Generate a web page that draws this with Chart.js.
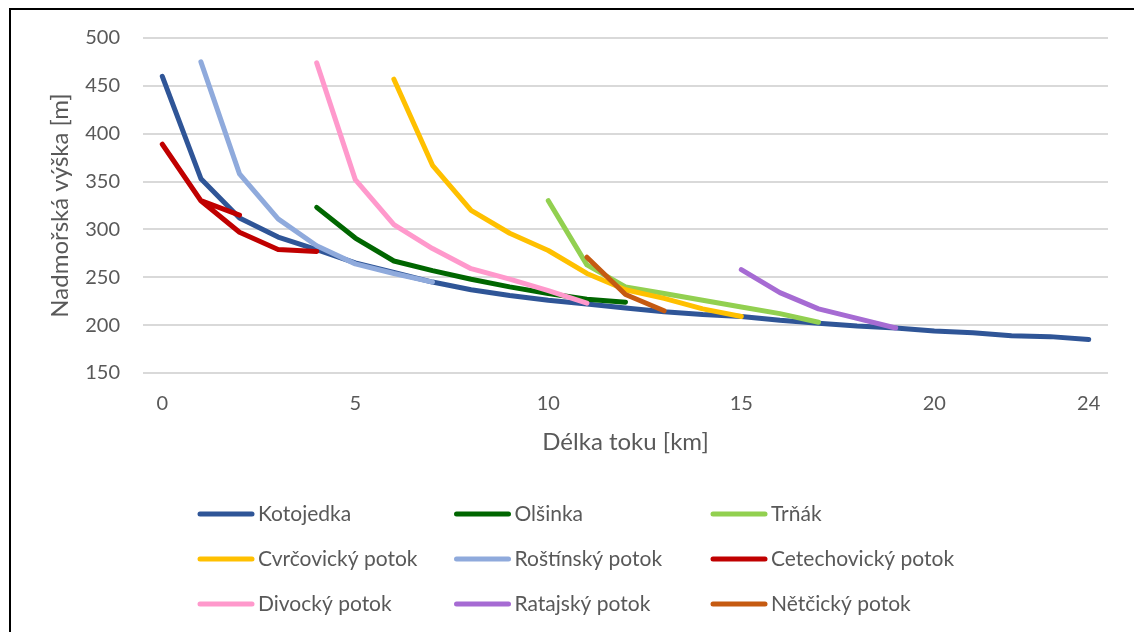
<!DOCTYPE html>
<html>
<head>
<meta charset="utf-8">
<script src="https://cdn.jsdelivr.net/npm/chart.js@4.4.1/dist/chart.umd.min.js"></script>
<style>
  html, body { margin: 0; padding: 0; background: #ffffff; }
  #wrap { width: 1134px; height: 632px; position: relative; }
</style>
</head>
<body>
<div id="wrap"><canvas id="c" width="1134" height="632"></canvas></div>
<script>
// ---- Data ----
const seriesNames = [
  "Kotojedka", "Olšinka", "Trňák",
  "Cvrčovický potok", "Roštínský potok", "Cetechovický potok",
  "Divocký potok", "Ratajský potok", "Nětčický potok"
];

const kotojedkaX = [0,1,2,3,4,5,6,7,8,9,10,11,12,13,14,15,16,17,18,19,20,21,22,23,24];
const kotojedkaY = [460,353,312,292,279,265,255,245,237,231,226,222,218,214,211,209,205,202,199,197,194,192,189,188,185];

const olsinkaX = [4,5,6,7,8,9,10,11,12];
const olsinkaY = [323,291,267,257,248,240,233,227,224];

const trnakX = [10,11,12,13,14,15,16,17];
const trnakY = [330,263,240,233,226,219,212,203];

const cvrcovickyX = [6,7,8,9,10,11,12,13,14,15];
const cvrcovickyY = [457,367,320,296,278,254,237,228,217,209];

const rostinskyX = [1,2,3,4,5,6,7];
const rostinskyY = [475,358,311,283,264,254,245];

const cetechovickyX = [0,1,2,1,2,3,4];
const cetechovickyY = [389,330,315,330,297,279,277];

const divockyX = [4,5,6,7,8,9,10,11];
const divockyY = [474,352,305,280,259,248,236,223];

const ratajskyX = [15,16,17,18,19];
const ratajskyY = [258,234,217,207,197];

const netcickyX = [11,12,13];
const netcickyY = [271,232,215];

const xTickValues = [0,5,10,15,20,24];
const yMin = 150, yMax = 500, yStep = 50;

const seriesX = [kotojedkaX, olsinkaX, trnakX, cvrcovickyX, rostinskyX, cetechovickyX, divockyX, ratajskyX, netcickyX];
const seriesY = [kotojedkaY, olsinkaY, trnakY, cvrcovickyY, rostinskyY, cetechovickyY, divockyY, ratajskyY, netcickyY];
const seriesColors = ["#2F5597", "#006600", "#92D050", "#FFC000", "#8FAADC", "#C00000", "#FF99CC", "#A66BD3", "#C55A11"];

const FONT = "Lato, 'Open Sans', sans-serif";
const TEXT = "#595959";

const datasets = seriesNames.map((name, i) => ({
  label: name,
  data: seriesX[i].map((x, k) => ({ x: x, y: seriesY[i][k] })),
  borderColor: seriesColors[i],
  backgroundColor: seriesColors[i],
  borderWidth: 5,
  borderCapStyle: 'round',
  borderJoinStyle: 'round',
  pointRadius: 0,
  pointHoverRadius: 0,
  tension: 0,
  fill: false,
  order: seriesNames.length - i
}));

const framePlugin = {
  id: 'frame',
  beforeDraw(chart) {
    const ctx = chart.ctx;
    ctx.save();
    ctx.fillStyle = '#ffffff';
    ctx.fillRect(0, 0, chart.width, chart.height);
    ctx.restore();
  },
  afterDraw(chart) {
    const ctx = chart.ctx;
    ctx.save();
    ctx.strokeStyle = '#000000';
    ctx.lineWidth = 2;
    ctx.beginPath();
    ctx.moveTo(10, chart.height + 5);
    ctx.lineTo(10, 9);
    ctx.lineTo(chart.width + 5, 9);
    ctx.stroke();
    ctx.restore();
  }
};

const legendPlugin = {
  id: 'gridLegend',
  afterDraw(chart) {
    const ctx = chart.ctx;
    ctx.save();
    ctx.font = "21px " + FONT;
    ctx.textBaseline = 'middle';
    ctx.textAlign = 'left';
    chart.data.datasets.forEach((ds, i) => {
      const col = i % 3, row = Math.floor(i / 3);
      const x0 = 200 + col * 256.5;
      const x1 = x0 + 52;
      const y = 514 + row * 45;
      ctx.strokeStyle = ds.borderColor;
      ctx.lineWidth = 5;
      ctx.lineCap = 'round';
      ctx.beginPath();
      ctx.moveTo(x0, y);
      ctx.lineTo(x1, y);
      ctx.stroke();
      ctx.fillStyle = TEXT;
      ctx.fillText(ds.label, x1 + 6, y);
    });
    ctx.restore();
  }
};

new Chart(document.getElementById('c'), {
  type: 'line',
  data: { datasets: datasets },
  plugins: [framePlugin, legendPlugin],
  options: {
    responsive: false,
    devicePixelRatio: 1,
    animation: false,
    events: [],
    layout: { padding: { left: 46, right: 26, top: 38, bottom: 175 } },
    plugins: { legend: { display: false }, tooltip: { enabled: false } },
    scales: {
      x: {
        type: 'linear',
        min: -0.5,
        max: 24.5,
        afterBuildTicks(scale) { scale.ticks = xTickValues.map(v => ({ value: v })); },
        afterFit(scale) { scale.height = 84; },
        grid: { display: false, drawTicks: false },
        border: { display: false },
        ticks: { padding: 19, color: TEXT, font: { family: FONT, size: 20 }, maxRotation: 0, autoSkip: false },
        title: { display: true, text: "Délka toku [km]", color: TEXT, font: { family: FONT, size: 24 }, padding: { top: 0, bottom: 0 } }
      },
      y: {
        min: yMin,
        max: yMax,
        afterFit(scale) { scale.width = 143 - 46; },
        grid: { color: '#d9d9d9', lineWidth: 2, drawTicks: false },
        border: { display: false },
        ticks: { stepSize: yStep, padding: 23, color: TEXT, font: { family: FONT, size: 20 } },
        title: { display: true, text: "Nadmořská výška [m]", color: TEXT, font: { family: FONT, size: 24 }, padding: { top: 0, bottom: 0 } }
      }
    }
  }
});
</script>
</body>
</html>
